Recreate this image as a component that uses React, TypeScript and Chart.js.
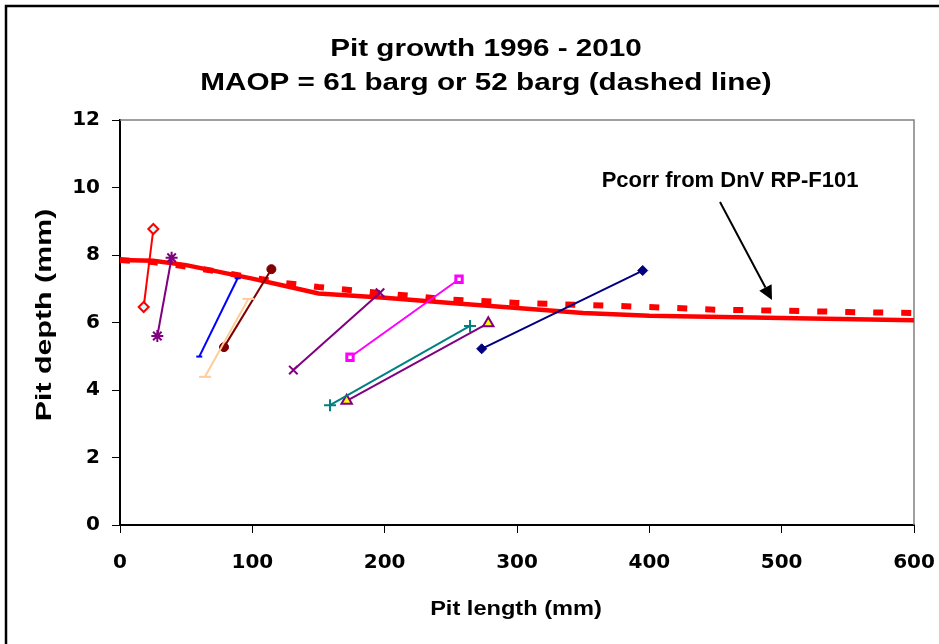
import React, { useEffect, useRef } from "react";
import { Chart, registerables } from "chart.js";

Chart.register(...registerables);

// ---------- text ----------
const titleLines = ["Pit growth 1996 - 2010", "MAOP = 61 barg or 52 barg (dashed line)"];
const xAxisTitle = "Pit length (mm)";
const yAxisTitle = "Pit depth (mm)";
const annotationText = "Pcorr from DnV RP-F101";

// ---------- ticks ----------
const xTicks = [0, 100, 200, 300, 400, 500, 600];
const yTicks = [0, 2, 4, 6, 8, 10, 12];

// ---------- Pcorr curves (DnV RP-F101) ----------
const pcorr61X = [0, 25, 50, 75, 100, 125, 150, 200, 250, 300, 350, 400, 500, 600];
const pcorr61Y = [7.85, 7.83, 7.7, 7.5, 7.3, 7.08, 6.86, 6.73, 6.58, 6.43, 6.28, 6.2, 6.13, 6.07];

const pcorr52X = [0, 25, 50, 75, 100, 125, 150, 200, 250, 300, 350, 400, 450, 500, 550, 600];
const pcorr52Y = [7.85, 7.79, 7.66, 7.5, 7.33, 7.17, 7.05, 6.86, 6.68, 6.58, 6.52, 6.46, 6.38, 6.35, 6.31, 6.28];

// ---------- pits (1996 -> 2010) ----------
const pit1X = [17.9, 25.2];
const pit1Y = [6.46, 8.77];
const pit2X = [28.2, 39.0];
const pit2Y = [5.6, 7.92];
const pit3X = [59.9, 88.9];
const pit3Y = [4.99, 7.31];
const pit4X = [64.2, 97.0];
const pit4Y = [4.39, 6.7];
const pit5X = [78.6, 114.4];
const pit5Y = [5.27, 7.58];
const pit6X = [131.0, 196.5];
const pit6Y = [4.59, 6.88];
const pit7X = [173.8, 256.2];
const pit7Y = [4.97, 7.28];
const pit8X = [158.7, 264.5];
const pit8Y = [3.55, 5.9];
const pit9X = [171.3, 278.3];
const pit9Y = [3.68, 5.98];
const pit10X = [273.3, 395.0];
const pit10Y = [5.22, 7.54];

// ---------- annotation anchor (data units) ----------
const annotationPos = [461, 10.01];
const arrowFrom = [453.4, 9.57];
const arrowTo = [492.7, 6.67];

const pts = (xs: number[], ys: number[]) => xs.map((x, i) => ({ x, y: ys[i] }));

function pitSet(xs: number[], ys: number[], color: string, style: any, radius: number, bg: string, bw = 1.5, pointBorder?: string) {
  return {
    data: pts(xs, ys),
    showLine: true,
    borderColor: color,
    borderWidth: 2,
    pointStyle: style,
    pointRadius: radius,
    pointBackgroundColor: bg,
    pointBorderColor: pointBorder || color,
    pointBorderWidth: bw,
    order: 1,
  };
}

function drawText(ctx: CanvasRenderingContext2D, text: string, x: number, y: number, size: number, sx: number, angle = 0, baseline: CanvasTextBaseline = "alphabetic") {
  ctx.save();
  ctx.translate(x, y);
  if (angle) ctx.rotate(angle);
  ctx.scale(sx, 1);
  ctx.font = `bold ${size}px "Liberation Sans", Arial, sans-serif`;
  ctx.textAlign = "center";
  ctx.textBaseline = baseline;
  ctx.fillStyle = "#000";
  ctx.fillText(text, 0, 0);
  ctx.restore();
}

const decorPlugin = {
  id: "decor",
  beforeDraw(chart: any) {
    const ctx = chart.ctx;
    ctx.save();
    ctx.fillStyle = "#fff";
    ctx.fillRect(0, 0, chart.width, chart.height);
    ctx.strokeStyle = "#000";
    ctx.lineWidth = 2.5;
    ctx.strokeRect(6, 6, chart.width + 20, chart.height + 20);
    ctx.restore();
  },
  beforeDatasetsDraw(chart: any) {
    const { left, top, right, bottom } = chart.chartArea;
    const ctx = chart.ctx;
    ctx.save();
    ctx.strokeStyle = "#808080";
    ctx.lineWidth = 1.5;
    ctx.beginPath();
    ctx.moveTo(left, top);
    ctx.lineTo(right, top);
    ctx.lineTo(right, bottom);
    ctx.stroke();
    ctx.restore();
  },
  afterDraw(chart: any) {
    const ctx = chart.ctx;
    const xs = chart.scales.x;
    const ys = chart.scales.y;
    // title
    drawText(ctx, titleLines[0], 486, 56, 23, 1.29);
    drawText(ctx, titleLines[1], 486, 90, 23, 1.29);
    // axis titles
    drawText(ctx, xAxisTitle, 516, 609, 20, 1.18, 0, "middle");
    drawText(ctx, yAxisTitle, 45, 315, 22, 1.38, -Math.PI / 2, "middle");
    // annotation
    drawText(ctx, annotationText, xs.getPixelForValue(annotationPos[0]), ys.getPixelForValue(annotationPos[1]), 22, 1.0);
    const x0 = xs.getPixelForValue(arrowFrom[0]);
    const y0 = ys.getPixelForValue(arrowFrom[1]);
    const x1 = xs.getPixelForValue(arrowTo[0]);
    const y1 = ys.getPixelForValue(arrowTo[1]);
    const ang = Math.atan2(y1 - y0, x1 - x0);
    const head = 14;
    const hx = x1 - head * Math.cos(ang);
    const hy = y1 - head * Math.sin(ang);
    ctx.save();
    ctx.strokeStyle = "#000";
    ctx.fillStyle = "#000";
    ctx.lineWidth = 2;
    ctx.beginPath();
    ctx.moveTo(x0, y0);
    ctx.lineTo(hx, hy);
    ctx.stroke();
    ctx.beginPath();
    ctx.moveTo(x1, y1);
    ctx.lineTo(hx + 7 * Math.sin(ang), hy - 7 * Math.cos(ang));
    ctx.lineTo(hx - 7 * Math.sin(ang), hy + 7 * Math.cos(ang));
    ctx.closePath();
    ctx.fill();
    ctx.restore();
  },
};

export default function App() {
  const ref = useRef<HTMLCanvasElement>(null);
  useEffect(() => {
    if (!ref.current) return;
    const chart = new Chart(ref.current, {
      type: "scatter",
      data: {
        datasets: [
          pitSet(pit1X, pit1Y, "#FF0000", "rectRot", 5, "#CCFFFF", 2),
          pitSet(pit2X, pit2Y, "#800080", "star", 6, "#800080", 2),
          pitSet(pit3X, pit3Y, "#0000FF", "line", 3, "#0000FF", 2),
          pitSet(pit4X, pit4Y, "#FFCC99", "line", 6, "#FFCC99", 2),
          pitSet(pit5X, pit5Y, "#800000", "circle", 4.5, "#800000", 1),
          pitSet(pit6X, pit6Y, "#800080", "crossRot", 6, "#800080", 2),
          pitSet(pit7X, pit7Y, "#FF00FF", "rect", 4.5, "#FFFFFF", 3),
          pitSet(pit8X, pit8Y, "#008080", "cross", 6, "#008080", 2),
          pitSet(pit9X, pit9Y, "#800080", "triangle", 6, "#FFFF00", 2),
          pitSet(pit10X, pit10Y, "#000080", "rectRot", 5, "#000080", 1),
          {
            data: pts(pcorr61X, pcorr61Y),
            showLine: true,
            borderColor: "#FF0000",
            borderWidth: 4.5,
            pointRadius: 0,
            tension: 0,
            order: 10,
          },
          {
            data: pts(pcorr52X, pcorr52Y),
            showLine: true,
            borderColor: "#FF0000",
            borderWidth: 6,
            borderDash: [10, 18],
            borderCapStyle: "butt",
            pointRadius: 0,
            tension: 0,
            order: 11,
          },
        ] as any,
      },
      options: {
        animation: false,
        responsive: false,
        layout: { padding: { top: 120, right: 25, left: 0, bottom: 0 } },
        plugins: { legend: { display: false }, title: { display: false }, tooltip: { enabled: false } },
        scales: {
          x: {
            type: "linear",
            min: 0,
            max: 600,
            afterFit: (s: any) => { s.height = 119; },
            afterBuildTicks: (s: any) => { s.ticks = xTicks.map((v) => ({ value: v })); },
            border: { display: true, color: "#000", width: 2 },
            grid: { display: true, drawOnChartArea: false, drawTicks: true, tickLength: 8, color: "#000", lineWidth: 1 },
            ticks: { color: "#000", padding: 4, maxRotation: 0, font: { family: "DejaVu Sans", weight: "bold", size: 20, lineHeight: 2.6 } },
          },
          y: {
            type: "linear",
            min: 0,
            max: 12,
            afterFit: (s: any) => { s.width = 120; },
            afterBuildTicks: (s: any) => { s.ticks = yTicks.map((v) => ({ value: v })); },
            border: { display: true, color: "#000", width: 2 },
            grid: { display: true, drawOnChartArea: false, drawTicks: true, tickLength: 8, color: "#000", lineWidth: 1 },
            ticks: { color: "#000", padding: 12, font: { family: "DejaVu Sans", weight: "bold", size: 20 } },
          },
        },
      } as any,
      plugins: [decorPlugin],
    });
    return () => chart.destroy();
  }, []);
  return (
    <div style={{ position: "absolute", left: 0, top: 0, width: 939, height: 644 }}>
      <canvas ref={ref} width={939} height={644} style={{ display: "block", width: 939, height: 644 }} />
    </div>
  );
}
